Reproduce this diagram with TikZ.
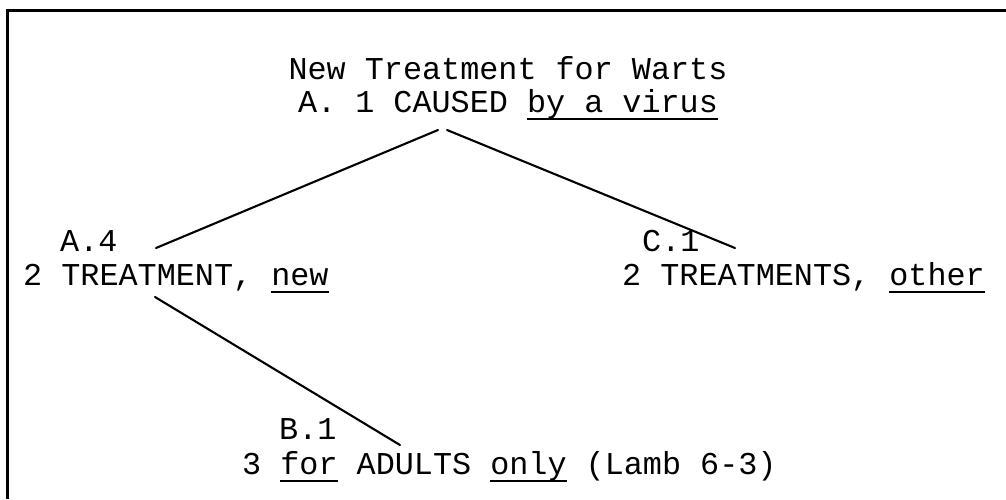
\documentclass[tikz,border=0pt]{standalone}
\usepackage{fontspec}
\setmainfont{Liberation Mono}
% underline that spans the full advance width of a word
\newcommand\ulword[1]{\sbox0{#1}\rlap{\rule[-8pt]{\wd0}{1.8pt}}\usebox0}
\begin{document}
\begin{tikzpicture}[x=1pt,y=-1pt,
  txt/.style={inner sep=0pt,font=\fontsize{31.8}{33}\selectfont},
  link/.style={line width=2.1pt,line cap=round}]
\useasboundingbox (0,0) rectangle (1006,499);
% page frame
\draw[line width=2.2pt] (7.5,499) -- (7.5,10.5) -- (1006,10.5);

% root
\node[txt,anchor=base] (title) at (508,79) {New Treatment for Warts};
\node[txt,anchor=base] (root) at (508,112) {A. 1 CAUSED \ulword{by a virus}};

% second level
\node[txt,anchor=base west] (atag) at (60,251) {A.4};
\node[txt,anchor=base west] (anew) at (23,285) {2 TREATMENT, \ulword{new}};
\node[txt,anchor=base west] (ctag) at (642,251) {C.1};
\node[txt,anchor=base west] (cother) at (622,285) {2 TREATMENTS, \ulword{other}};

% third level
\node[txt,anchor=base west] (btag) at (279,439) {B.1};
\node[txt,anchor=base west] (badult) at (242,474) {3 \ulword{for} ADULTS \ulword{only} (Lamb 6-3)};

% connector ends
\coordinate (rootL) at (438,130);
\coordinate (rootR) at (447,130);
\coordinate (aTop) at (156,248);
\coordinate (cTop) at (735,248);
\coordinate (aBot) at (155,297);
\coordinate (bTop) at (400,445);

\draw[link] (rootL) -- (aTop);
\draw[link] (rootR) -- (cTop);
\draw[link] (aBot) -- (bTop);
\end{tikzpicture}
\end{document}
